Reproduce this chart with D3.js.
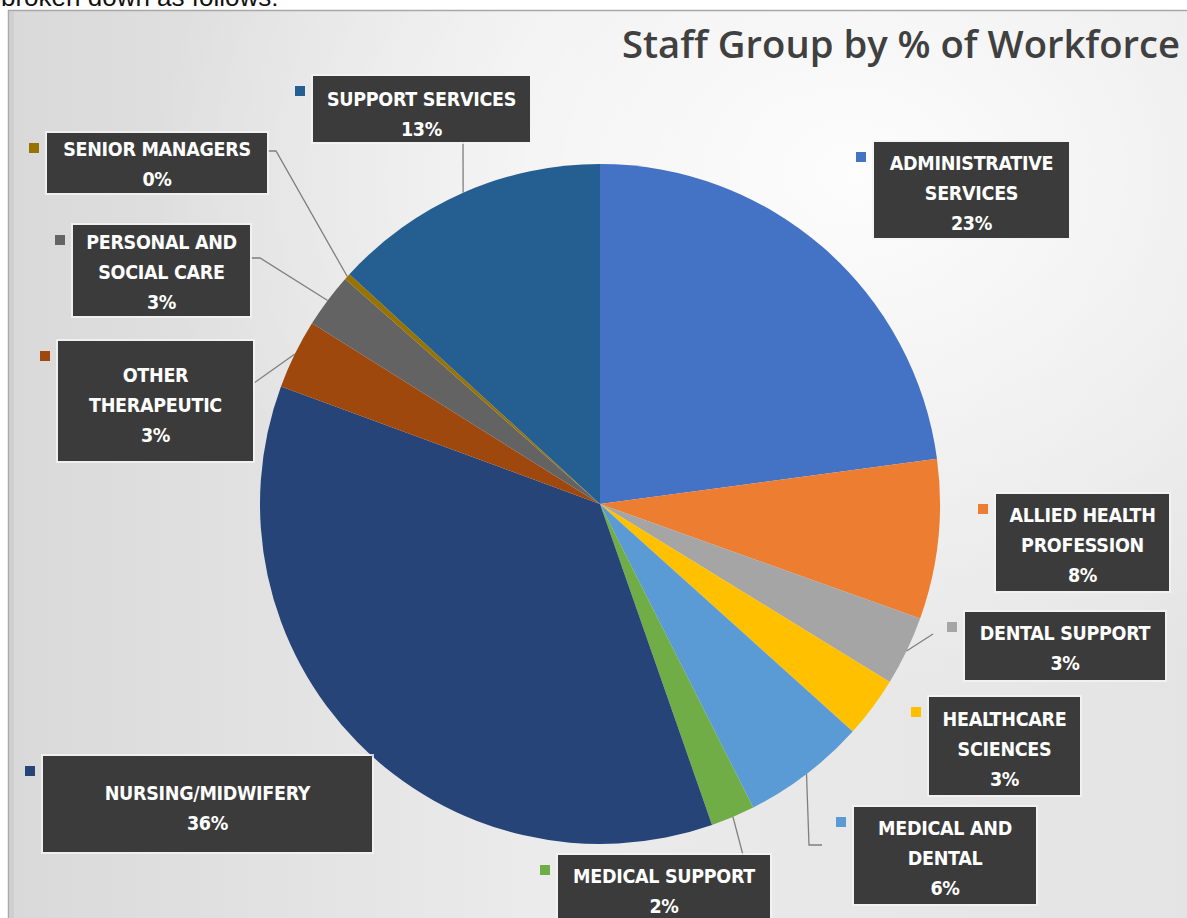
<!DOCTYPE html>
<html>
<head>
<meta charset="utf-8">
<script src="https://cdn.jsdelivr.net/npm/d3@7/dist/d3.min.js"></script>
<style>
  html, body { margin: 0; padding: 0; background: #ffffff; }
  svg { display: block; }
</style>
</head>
<body>
<svg id="chart" width="1187" height="918"></svg>
<script>
// ---------- DATA ----------
const categories = [
  "ADMINISTRATIVE SERVICES",
  "ALLIED HEALTH PROFESSION",
  "DENTAL SUPPORT",
  "HEALTHCARE SCIENCES",
  "MEDICAL AND DENTAL",
  "MEDICAL SUPPORT",
  "NURSING/MIDWIFERY",
  "OTHER THERAPEUTIC",
  "PERSONAL AND SOCIAL CARE",
  "SENIOR MANAGERS",
  "SUPPORT SERVICES"
];
const values = [22.9, 7.6, 3.3, 2.9, 5.9, 2.1, 36.0, 3.3, 2.6, 0.3, 13.2];
const labelLines = [
  ["ADMINISTRATIVE", "SERVICES"],
  ["ALLIED HEALTH", "PROFESSION"],
  ["DENTAL SUPPORT"],
  ["HEALTHCARE", "SCIENCES"],
  ["MEDICAL AND", "DENTAL"],
  ["MEDICAL SUPPORT"],
  ["NURSING/MIDWIFERY"],
  ["OTHER", "THERAPEUTIC"],
  ["PERSONAL AND", "SOCIAL CARE"],
  ["SENIOR MANAGERS"],
  ["SUPPORT SERVICES"]
];
const colors = ["#4472C4", "#ED7D31", "#A5A5A5", "#FFC000", "#5B9BD5", "#70AD47",
                "#264478", "#9E480E", "#636363", "#997300", "#255E91"];
const title = "Staff Group by % of Workforce";
const caption = "broken down as follows:";

// ---------- LAYOUT (positions of label boxes, not data) ----------
const boxLayout = [
  {x: 874, y: 142, w: 195, h: 96,  t: 170, leader: null},
  {x: 996, y: 494, w: 173, h: 97,  t: 522, leader: null},
  {x: 965, y: 612, w: 200, h: 68,  t: 640, leader: [[933, 634]]},
  {x: 929, y: 697, w: 151, h: 98,  t: 726, leader: null},
  {x: 854, y: 807, w: 182, h: 97,  t: 835, leader: [[809, 845], [822, 845]]},
  {x: 558, y: 855, w: 212, h: 70,  t: 883, leader: [[743, 855]]},
  {x: 43,  y: 756, w: 329, h: 96,  t: 800, leader: null},
  {x: 58,  y: 341, w: 195, h: 120, t: 382, leader: [[254, 383]]},
  {x: 73,  y: 225, w: 177, h: 91,  t: 249, leader: [[260, 258], [251, 258]]},
  {x: 47,  y: 133, w: 220, h: 60,  t: 156, leader: [[276, 151], [268, 151]]},
  {x: 313, y: 76,  w: 217, h: 66,  t: 106, leader: [[463, 142]]}
];

// ---------- DRAW ----------
const svg = d3.select("#chart");
const W = 1187, H = 918;

const defs = svg.append("defs");
const grad = defs.append("linearGradient").attr("id", "bg")
  .attr("x1", "0%").attr("y1", "0%").attr("x2", "100%").attr("y2", "0%");
grad.append("stop").attr("offset", "0%").attr("stop-color", "#d9d9d9");
grad.append("stop").attr("offset", "45%").attr("stop-color", "#ebebeb");
grad.append("stop").attr("offset", "100%").attr("stop-color", "#e4e4e4");
const grad2 = defs.append("radialGradient").attr("id", "glow")
  .attr("cx", "72%").attr("cy", "18%").attr("r", "60%");
grad2.append("stop").attr("offset", "0%").attr("stop-color", "#ffffff").attr("stop-opacity", 0.9);
grad2.append("stop").attr("offset", "100%").attr("stop-color", "#ffffff").attr("stop-opacity", 0);

// caption (clipped at top, as in the source picture)
svg.append("text").attr("x", 1).attr("y", 6)
  .attr("font-family", "Liberation Sans, Arial, sans-serif")
  .attr("font-size", 26).attr("fill", "#111").text(caption);

// frame
svg.append("rect").attr("x", 8).attr("y", 10).attr("width", W - 8).attr("height", H - 10)
  .attr("fill", "url(#bg)");
svg.append("rect").attr("x", 8).attr("y", 10).attr("width", W - 8).attr("height", H - 10)
  .attr("fill", "url(#glow)");
svg.append("rect").attr("x", 8.5).attr("y", 10.5).attr("width", W).attr("height", H)
  .attr("fill", "none").attr("stroke", "#a8a8a8").attr("stroke-width", 1.5);
svg.append("rect").attr("x", 10).attr("y", 12).attr("width", 4).attr("height", H)
  .attr("fill", "#cfcfcf");

// title
svg.append("text").attr("x", 1180).attr("y", 58).attr("text-anchor", "end")
  .attr("font-family", "Open Sans, sans-serif").attr("font-weight", 600)
  .attr("font-size", 38).attr("fill", "#404040")
  .attr("textLength", 558).attr("lengthAdjust", "spacingAndGlyphs")
  .text(title);

// pie
const cx = 600, cy = 504, R = 340;
const data = categories.map((c, i) => ({cat: c, value: values[i], color: colors[i], lines: labelLines[i], box: boxLayout[i]}));
const pie = d3.pie().sort(null).value(d => d.value).startAngle(0).endAngle(2 * Math.PI);
const arcs = pie(data);
const arcGen = d3.arc().innerRadius(0).outerRadius(R);
const g = svg.append("g").attr("transform", `translate(${cx},${cy})`);
g.selectAll("path").data(arcs).join("path")
  .attr("d", arcGen).attr("fill", d => d.data.color);

// leader lines
const edge = d3.arc().innerRadius(R).outerRadius(R);
arcs.forEach(a => {
  const b = a.data.box;
  if (!b.leader) return;
  const [ex, ey] = edge.centroid(a);
  const pts = [[cx + ex, cy + ey]].concat(b.leader);
  svg.append("path").attr("d", d3.line()(pts))
    .attr("fill", "none").attr("stroke", "#7f7f7f").attr("stroke-width", 1.3);
});

// label boxes
const fmt = v => Math.round(v) + "%";
const lab = svg.append("g");
data.forEach(d => {
  const b = d.box;
  lab.append("rect").attr("x", b.x - 2).attr("y", b.y - 2).attr("width", b.w + 4).attr("height", b.h + 4)
    .attr("fill", "#f4f4f4").attr("opacity", 0.8);
  lab.append("rect").attr("x", b.x).attr("y", b.y).attr("width", b.w).attr("height", b.h)
    .attr("fill", "#3b3b3b");
  lab.append("rect").attr("x", b.x - 18).attr("y", b.y + 10).attr("width", 10).attr("height", 10)
    .attr("fill", d.color);
  const allLines = d.lines.concat([fmt(d.value)]);
  allLines.forEach((ln, k) => {
    lab.append("text").attr("x", b.x + b.w / 2).attr("y", b.t + k * 30)
      .attr("text-anchor", "middle")
      .attr("font-family", "Liberation Sans Narrow, DejaVu Sans Condensed, sans-serif")
      .attr("font-weight", "bold").attr("font-size", 19.5)
      .attr("letter-spacing", -0.3)
      .attr("fill", "#ffffff").text(ln);
  });
});
</script>
</body>
</html>
